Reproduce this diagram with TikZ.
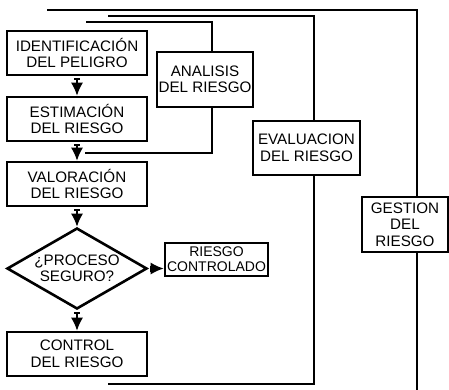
\documentclass[tikz,border=0pt]{standalone}
\usepackage{fontspec}
\setmainfont{Liberation Sans}
\usetikzlibrary{shapes.geometric, arrows.meta, positioning}

\begin{document}
\begin{tikzpicture}[x=1pt,y=-1pt,
    every node/.style={font=\fontsize{15.2}{16.5}\selectfont, align=center},
    box/.style={draw, line width=2.6pt, fill=white, inner sep=0pt,
      minimum width=140pt, minimum height=44pt},
    sidebox/.style={draw, line width=2.6pt, fill=white, inner sep=1.5pt},
    bracket/.style={line width=2.6pt},
    flow/.style={line width=1.6pt, shorten <=2pt,
      {Bar[width=6pt]}-{Latex[length=13pt,width=12pt]}}]

    \useasboundingbox (0,0) rectangle (449,389);

    % main flow
    \node[box] (ident) at (77,53)  {IDENTIFICACIÓN\\DEL PELIGRO};
    \node[box] (estim) at (77,119) {ESTIMACIÓN\\DEL RIESGO};
    \node[box] (valor) at (77,184) {VALORACIÓN\\DEL RIESGO};
    \node[draw, diamond, line width=2.6pt, aspect=1.73, inner sep=0pt,
      minimum width=140pt, minimum height=81pt] (proc) at (77,268.5)
      {¿PROCESO\\SEGURO?};
    \node[box] (ctrl)  at (77,354) {CONTROL\\DEL RIESGO};
    \node[sidebox, inner sep=0pt, minimum width=103pt, minimum height=33pt,
      font=\fontsize{14}{15}\selectfont]
      (ries) at (216.5,259.5) {RIESGO\\CONTROLADO};

    \draw[flow] (ident) -- (estim);
    \draw[flow] (estim) -- (valor);
    \draw[flow] (valor) -- (proc);
    \draw[flow] (proc) -- (ctrl);
    \draw[flow] (proc.east) -- (proc.east -| ries.west);

    % brackets
    \node[sidebox, minimum width=96pt, minimum height=55pt]
      (anal) at (205,79.5) {ANALISIS\\DEL RIESGO};
    \node[sidebox, minimum width=107pt, minimum height=54pt]
      (eval) at (306.5,148) {EVALUACION\\DEL RIESGO};
    \node[sidebox, minimum width=86pt, minimum height=55pt]
      (gest) at (405,224.5) {GESTION\\DEL\\RIESGO};

    \coordinate (aTop) at (86,22);   \coordinate (aBot) at (85,153);
    \coordinate (aX)   at (212,0);
    \coordinate (eTop) at (108,16);  \coordinate (eBot) at (108,384);
    \coordinate (eX)   at (314,0);
    \coordinate (gTop) at (47,10);   \coordinate (gBot) at (417,390);

    \draw[bracket] (aTop) -| (anal.north -| aX);
    \draw[bracket] (anal.south -| aX) |- (aBot);
    \draw[bracket] (eTop) -| (eval.north -| eX);
    \draw[bracket] (eval.south -| eX) |- (eBot);
    \draw[bracket] (gTop) -| (gest.north -| gBot);
    \draw[bracket] (gest.south -| gBot) -- (gBot);

\end{tikzpicture}
\end{document}
